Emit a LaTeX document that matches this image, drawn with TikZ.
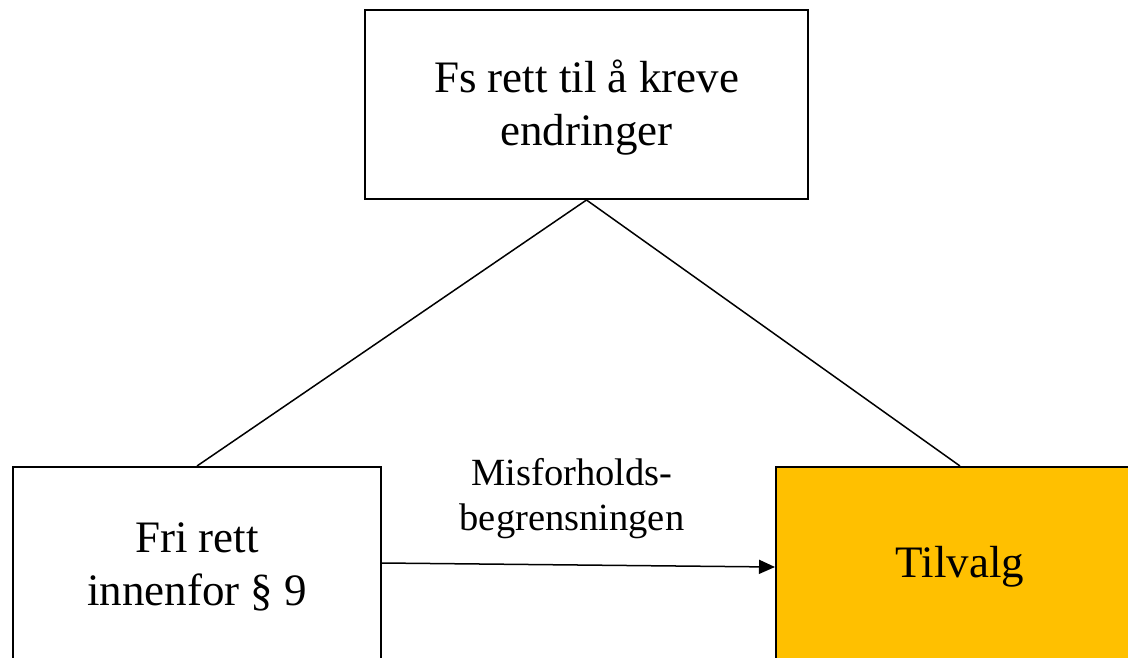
\documentclass[tikz,border=0pt]{standalone}
\usepackage{fontspec}
\setmainfont{Liberation Serif}
\usetikzlibrary{arrows.meta}
\definecolor{gold}{HTML}{FFC000}
\begin{document}
\begin{tikzpicture}[x=1pt,y=-1pt,
  box/.style={draw=black,line width=2pt,align=center,inner sep=0pt,
    font=\fontsize{45}{53}\selectfont},
  link/.style={line width=1.5pt},
  lbl/.style={align=center,font=\fontsize{38.5}{45}\selectfont}]
\useasboundingbox (0,0) rectangle (1128,657);
\clip (0,0) rectangle (1128,657);
\fill[white] (0,0) rectangle (1128,657);
% boxes
\node[box,minimum width=443pt,minimum height=189pt] (top) at (586.5,104.5)
  {\rule{0pt}{38pt}Fs rett til å kreve\\endringer};
\node[box,minimum width=368pt,minimum height=200pt] (left) at (197,567)
  {Fri rett\\innenfor § 9};
\node[box,fill=gold,minimum width=368pt,minimum height=200pt] (right) at (960,567)
  {Tilvalg};
% connectors
\draw[link] (top.south) -- (left.north);
\draw[link] (top.south) -- (right.north);
\draw[link,-{Triangle[length=16pt,width=14pt]}] ([yshift=4pt]left.east) -- (right.west);
\node[lbl] (cap) at (572,499) {Misforholds-\\begrensningen};
\end{tikzpicture}
\end{document}
